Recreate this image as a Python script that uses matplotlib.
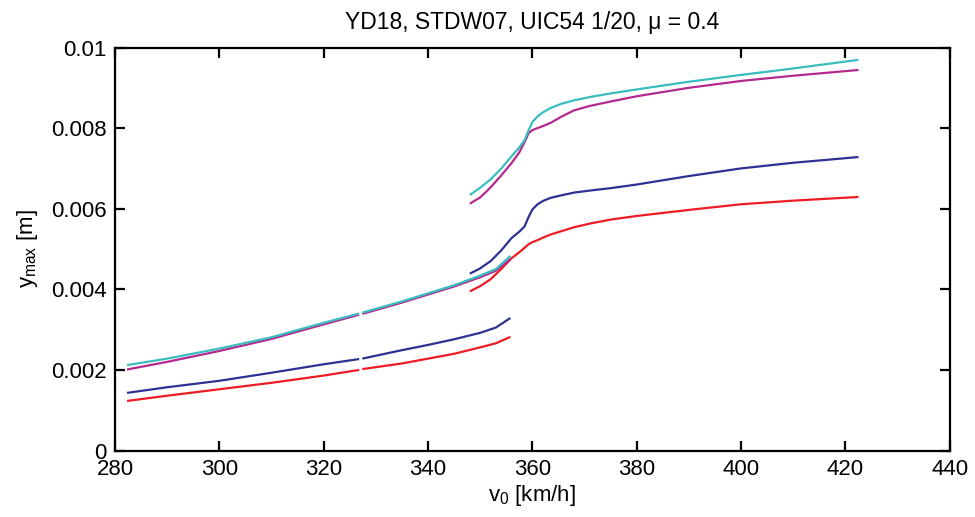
import matplotlib.pyplot as plt
from matplotlib.ticker import FuncFormatter

plt.rcParams['font.family'] = ['Liberation Sans', 'DejaVu Sans']
plt.rcParams['mathtext.default'] = 'regular'

# lower branch, split in two pieces with a small gap near 327 km/h
x_low_a = [282.3, 290, 300, 310, 320, 326.8]
x_low_b = [327.4, 335, 340, 345, 350, 353, 355.8]
# upper branch
x_up = [348.2, 350, 352, 354, 356, 357.5, 358.5, 359.3, 360, 361, 362, 363.5,
        365.5, 368, 371, 375, 380, 390, 400, 410, 422.3]

cyan_low_a = [0.00212, 0.00228, 0.00253, 0.00281, 0.00317, 0.00340]
cyan_low_b = [0.00342, 0.00370, 0.00390, 0.00410, 0.00434, 0.00450, 0.00483]
cyan_up = [0.00636, 0.00652, 0.00673, 0.00699, 0.00730, 0.00752, 0.00770, 0.00795,
           0.00815, 0.00829, 0.00839, 0.00850, 0.00860, 0.00869, 0.00877, 0.00886,
           0.00896, 0.00915, 0.00932, 0.00948, 0.00969]

mag_low_a = [0.00201, 0.00220, 0.00247, 0.00277, 0.00313, 0.00337]
mag_low_b = [0.00339, 0.00367, 0.00387, 0.00407, 0.00430, 0.00446, 0.00475]
mag_up = [0.00614, 0.00628, 0.00653, 0.00682, 0.00713, 0.00740, 0.00765, 0.00788,
          0.00795, 0.00800, 0.00805, 0.00813, 0.00828, 0.00844, 0.00855, 0.00866,
          0.00879, 0.00900, 0.00917, 0.00930, 0.00944]

navy_low_a = [0.00143, 0.00157, 0.00173, 0.00193, 0.00214, 0.00227]
navy_low_b = [0.00228, 0.00249, 0.00262, 0.00276, 0.00292, 0.00305, 0.00329]
navy_up = [0.00440, 0.00452, 0.00470, 0.00496, 0.00527, 0.00543, 0.00556, 0.00580,
           0.00598, 0.00611, 0.00619, 0.00627, 0.00633, 0.00640, 0.00645, 0.00651,
           0.00660, 0.00681, 0.00700, 0.00714, 0.00728]

red_low_a = [0.00123, 0.00136, 0.00152, 0.00168, 0.00186, 0.00200]
red_low_b = [0.00202, 0.00216, 0.00228, 0.00240, 0.00256, 0.00266, 0.00282]
red_up = [0.00396, 0.00408, 0.00425, 0.00450, 0.00477, 0.00492, 0.00503, 0.00512,
          0.00517, 0.00522, 0.00528, 0.00536, 0.00544, 0.00554, 0.00563, 0.00573,
          0.00582, 0.00597, 0.00611, 0.00620, 0.00629]

series = [
    ('#3bbdbf', cyan_low_a, cyan_low_b, cyan_up),
    ('#b4298f', mag_low_a, mag_low_b, mag_up),
    ('#2e3192', navy_low_a, navy_low_b, navy_up),
    ('#ed1c24', red_low_a, red_low_b, red_up),
]

fig = plt.figure(figsize=(9.75, 5.17), dpi=100)
ax = fig.add_axes([0.118, 0.1286, 0.856, 0.7795])

# draw back to front so cyan ends up on top like the original
for color, ya, yb, yu in reversed(series):
    ax.plot(x_low_a, ya, color=color, lw=1.6, solid_capstyle='butt')
    ax.plot(x_low_b, yb, color=color, lw=1.6, solid_capstyle='butt')
    ax.plot(x_up, yu, color=color, lw=1.6)

ax.set_xlim(280, 440)
ax.set_ylim(0, 0.01)
ax.set_xticks(range(280, 441, 20))
ax.set_yticks([0, 0.002, 0.004, 0.006, 0.008, 0.01])
ax.yaxis.set_major_formatter(FuncFormatter(lambda v, p: '0' if v == 0 else f'{v:g}'))

for s in ax.spines.values():
    s.set_linewidth(1.6)
ax.tick_params(direction='in', length=7, width=1.6, labelsize=16,
               top=True, right=True, pad=6)

ax.set_title('YD18, STDW07, UIC54 1/20, μ = 0.4', fontsize=16.5, pad=13)
ax.set_xlabel('v$_0$ [km/h]', fontsize=16, labelpad=2)
ax.set_ylabel('y$_{max}$ [m]', fontsize=16, labelpad=8)

fig.savefig('out.png', dpi=100)
